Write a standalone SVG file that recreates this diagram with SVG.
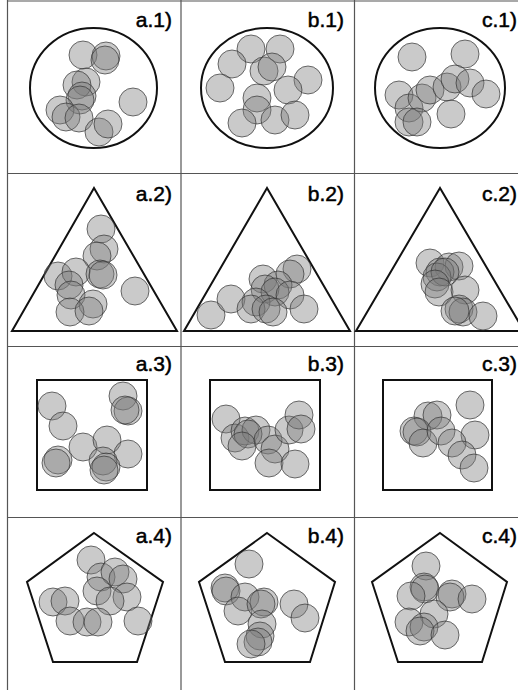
<svg xmlns="http://www.w3.org/2000/svg" width="518" height="690" viewBox="0 0 518 690">
<style>
.grid{stroke:#555;stroke-width:1.2;fill:none}
.sh{fill:none;stroke:#111;stroke-width:2}
.b{fill:#7a7a7a;fill-opacity:0.4;stroke:#333;stroke-opacity:0.7;stroke-width:1}
.lb{font-family:"Liberation Sans",Arial,sans-serif;font-size:21px;fill:#000;stroke:#000;stroke-width:0.5;text-anchor:end}
</style>
<rect width="518" height="690" fill="#fff"/>
<g id="grid">
<line class="grid" x1="7.5" y1="0" x2="7.5" y2="690"/>
<line class="grid" x1="181" y1="0" x2="181" y2="690"/>
<line class="grid" x1="354.5" y1="0" x2="354.5" y2="690"/>
<line class="grid" x1="7" y1="1" x2="518" y2="1"/>
<line class="grid" x1="7" y1="173.5" x2="518" y2="173.5"/>
<line class="grid" x1="7" y1="346.5" x2="518" y2="346.5"/>
<line class="grid" x1="7" y1="517.5" x2="518" y2="517.5"/>
</g>
<g id="a1">
<ellipse class="sh" cx="93.5" cy="88" rx="63.5" ry="60"/>
<circle class="b" cx="83" cy="55" r="14"/><circle class="b" cx="106" cy="56" r="14"/><circle class="b" cx="105" cy="60" r="14"/>
<circle class="b" cx="86" cy="82" r="14"/><circle class="b" cx="77" cy="85" r="14"/><circle class="b" cx="82" cy="96" r="14"/>
<circle class="b" cx="80" cy="100" r="14"/><circle class="b" cx="60" cy="110" r="14"/><circle class="b" cx="66" cy="117" r="14"/>
<circle class="b" cx="79" cy="118" r="14"/><circle class="b" cx="99" cy="132" r="14"/><circle class="b" cx="108" cy="124" r="14"/>
<circle class="b" cx="133" cy="102" r="14"/>
<text class="lb" x="172" y="27">a.1)</text>
</g>
<g id="b1">
<ellipse class="sh" cx="267" cy="88" rx="66" ry="60"/>
<circle class="b" cx="251" cy="49" r="14"/><circle class="b" cx="280" cy="49" r="14"/><circle class="b" cx="232" cy="64" r="14"/>
<circle class="b" cx="264" cy="71" r="14"/><circle class="b" cx="272" cy="67" r="14"/><circle class="b" cx="220" cy="88" r="14"/>
<circle class="b" cx="308" cy="80" r="14"/><circle class="b" cx="288" cy="90" r="14"/><circle class="b" cx="257" cy="98" r="14"/>
<circle class="b" cx="257" cy="110" r="14"/><circle class="b" cx="242" cy="123" r="14"/><circle class="b" cx="275" cy="120" r="14"/>
<circle class="b" cx="295" cy="115" r="14"/>
<text class="lb" x="344" y="27">b.1)</text>
</g>
<g id="c1">
<ellipse class="sh" cx="440" cy="88" rx="65" ry="60"/>
<circle class="b" cx="412" cy="57" r="14"/><circle class="b" cx="465" cy="54" r="14"/><circle class="b" cx="399" cy="95" r="14"/>
<circle class="b" cx="409" cy="108" r="14"/><circle class="b" cx="422" cy="98" r="14"/><circle class="b" cx="430" cy="90" r="14"/>
<circle class="b" cx="447" cy="87" r="14"/><circle class="b" cx="455" cy="79" r="14"/><circle class="b" cx="470" cy="83" r="14"/>
<circle class="b" cx="486" cy="94" r="14"/><circle class="b" cx="451" cy="114" r="14"/><circle class="b" cx="409" cy="122" r="14"/>
<circle class="b" cx="417" cy="122" r="14"/>
<text class="lb" x="517" y="27">c.1)</text>
</g>
<g id="a2">
<polygon class="sh" points="94,188 12,331 177,331"/>
<circle class="b" cx="101" cy="229" r="14"/><circle class="b" cx="104" cy="249" r="14"/><circle class="b" cx="97" cy="256" r="14"/>
<circle class="b" cx="58" cy="276" r="14"/><circle class="b" cx="76" cy="272" r="14"/><circle class="b" cx="100" cy="274" r="14"/>
<circle class="b" cx="103" cy="275" r="14"/><circle class="b" cx="69" cy="285" r="14"/><circle class="b" cx="71" cy="295" r="14"/>
<circle class="b" cx="93" cy="304" r="14"/><circle class="b" cx="70" cy="312" r="14"/><circle class="b" cx="89" cy="311" r="14"/>
<circle class="b" cx="135" cy="291" r="14"/>
<text class="lb" x="172" y="201">a.2)</text>
</g>
<g id="b2">
<polygon class="sh" points="267,188 184,331 350,331"/>
<circle class="b" cx="211" cy="315" r="14"/><circle class="b" cx="231" cy="299" r="14"/><circle class="b" cx="263" cy="279" r="14"/>
<circle class="b" cx="297" cy="269" r="14"/><circle class="b" cx="290" cy="274" r="14"/><circle class="b" cx="278" cy="285" r="14"/>
<circle class="b" cx="265" cy="289" r="14"/><circle class="b" cx="275" cy="292" r="14"/><circle class="b" cx="290" cy="295" r="14"/>
<circle class="b" cx="256" cy="302" r="14"/><circle class="b" cx="251" cy="309" r="14"/><circle class="b" cx="266" cy="309" r="14"/>
<circle class="b" cx="273" cy="312" r="14"/><circle class="b" cx="304" cy="309" r="14"/>
<text class="lb" x="344" y="201">b.2)</text>
</g>
<g id="c2">
<polygon class="sh" points="440,188 356,331 524,331"/>
<circle class="b" cx="430" cy="263" r="14"/><circle class="b" cx="449" cy="267" r="14"/><circle class="b" cx="459" cy="266" r="14"/>
<circle class="b" cx="440" cy="272" r="14"/><circle class="b" cx="437" cy="277" r="14"/><circle class="b" cx="445" cy="272" r="14"/>
<circle class="b" cx="435" cy="284" r="14"/><circle class="b" cx="439" cy="292" r="14"/><circle class="b" cx="465" cy="290" r="14"/>
<circle class="b" cx="459" cy="309" r="14"/><circle class="b" cx="463" cy="312" r="14"/><circle class="b" cx="455" cy="311" r="14"/>
<circle class="b" cx="483" cy="316" r="14"/>
<text class="lb" x="517" y="201">c.2)</text>
</g>
<g id="a3">
<rect class="sh" x="37" y="380" width="110" height="110"/>
<circle class="b" cx="52" cy="406" r="14"/><circle class="b" cx="63" cy="426" r="14"/><circle class="b" cx="123" cy="396" r="14"/>
<circle class="b" cx="128" cy="411" r="14"/><circle class="b" cx="125" cy="410" r="14"/><circle class="b" cx="83" cy="447" r="14"/>
<circle class="b" cx="107" cy="440" r="14"/><circle class="b" cx="128" cy="454" r="14"/><circle class="b" cx="58" cy="460" r="14"/>
<circle class="b" cx="56" cy="463" r="14"/><circle class="b" cx="103" cy="461" r="14"/><circle class="b" cx="106" cy="467" r="14"/>
<circle class="b" cx="104" cy="470" r="14"/>
<text class="lb" x="172" y="371">a.3)</text>
</g>
<g id="b3">
<rect class="sh" x="210" y="380" width="110" height="110"/>
<circle class="b" cx="226" cy="419" r="14"/><circle class="b" cx="235" cy="438" r="14"/><circle class="b" cx="245" cy="431" r="14"/>
<circle class="b" cx="256" cy="430" r="14"/><circle class="b" cx="248" cy="434" r="14"/><circle class="b" cx="242" cy="446" r="14"/>
<circle class="b" cx="268" cy="440" r="14"/><circle class="b" cx="275" cy="449" r="14"/><circle class="b" cx="269" cy="463" r="14"/>
<circle class="b" cx="295" cy="464" r="14"/><circle class="b" cx="289" cy="430" r="14"/><circle class="b" cx="299" cy="415" r="14"/>
<circle class="b" cx="301" cy="429" r="14"/>
<text class="lb" x="344" y="371">b.3)</text>
</g>
<g id="c3">
<rect class="sh" x="383" y="380" width="109" height="110"/>
<circle class="b" cx="470" cy="405" r="14"/><circle class="b" cx="475" cy="435" r="14"/><circle class="b" cx="428" cy="416" r="14"/>
<circle class="b" cx="437" cy="415" r="14"/><circle class="b" cx="414" cy="431" r="14"/><circle class="b" cx="417" cy="432" r="14"/>
<circle class="b" cx="423" cy="443" r="14"/><circle class="b" cx="441" cy="431" r="14"/><circle class="b" cx="452" cy="443" r="14"/>
<circle class="b" cx="462" cy="455" r="14"/><circle class="b" cx="474" cy="468" r="14"/>
<text class="lb" x="517" y="371">c.3)</text>
</g>
<g id="a4">
<polygon class="sh" points="94,533 163,582 137,662 53,662 27,582"/>
<circle class="b" cx="91" cy="560" r="14"/><circle class="b" cx="101" cy="577" r="14"/><circle class="b" cx="115" cy="572" r="14"/>
<circle class="b" cx="123" cy="579" r="14"/><circle class="b" cx="97" cy="591" r="14"/><circle class="b" cx="127" cy="597" r="14"/>
<circle class="b" cx="110" cy="601" r="14"/><circle class="b" cx="53" cy="602" r="14"/><circle class="b" cx="65" cy="601" r="14"/>
<circle class="b" cx="70" cy="621" r="14"/><circle class="b" cx="87" cy="622" r="14"/><circle class="b" cx="98" cy="622" r="14"/>
<circle class="b" cx="138" cy="621" r="14"/>
<text class="lb" x="172" y="543">a.4)</text>
</g>
<g id="b4">
<polygon class="sh" points="267,533 335,582 310,662 225,662 199,582"/>
<circle class="b" cx="249" cy="564" r="14"/><circle class="b" cx="225" cy="588" r="14"/><circle class="b" cx="226" cy="591" r="14"/>
<circle class="b" cx="245" cy="597" r="14"/><circle class="b" cx="238" cy="611" r="14"/><circle class="b" cx="264" cy="602" r="14"/>
<circle class="b" cx="261" cy="604" r="14"/><circle class="b" cx="262" cy="624" r="14"/><circle class="b" cx="294" cy="604" r="14"/>
<circle class="b" cx="305" cy="618" r="14"/><circle class="b" cx="260" cy="636" r="14"/><circle class="b" cx="258" cy="642" r="14"/>
<circle class="b" cx="251" cy="644" r="14"/>
<text class="lb" x="344" y="543">b.4)</text>
</g>
<g id="c4">
<polygon class="sh" points="440,533 507,582 482,662 398,662 372,582"/>
<circle class="b" cx="426" cy="566" r="14"/><circle class="b" cx="424" cy="587" r="14"/><circle class="b" cx="425" cy="589" r="14"/>
<circle class="b" cx="411" cy="596" r="14"/><circle class="b" cx="452" cy="594" r="14"/><circle class="b" cx="450" cy="597" r="14"/>
<circle class="b" cx="472" cy="599" r="14"/><circle class="b" cx="434" cy="614" r="14"/><circle class="b" cx="409" cy="622" r="14"/>
<circle class="b" cx="424" cy="627" r="14"/><circle class="b" cx="420" cy="631" r="14"/><circle class="b" cx="445" cy="635" r="14"/>
<text class="lb" x="517" y="543">c.4)</text>
</g>
</svg>
